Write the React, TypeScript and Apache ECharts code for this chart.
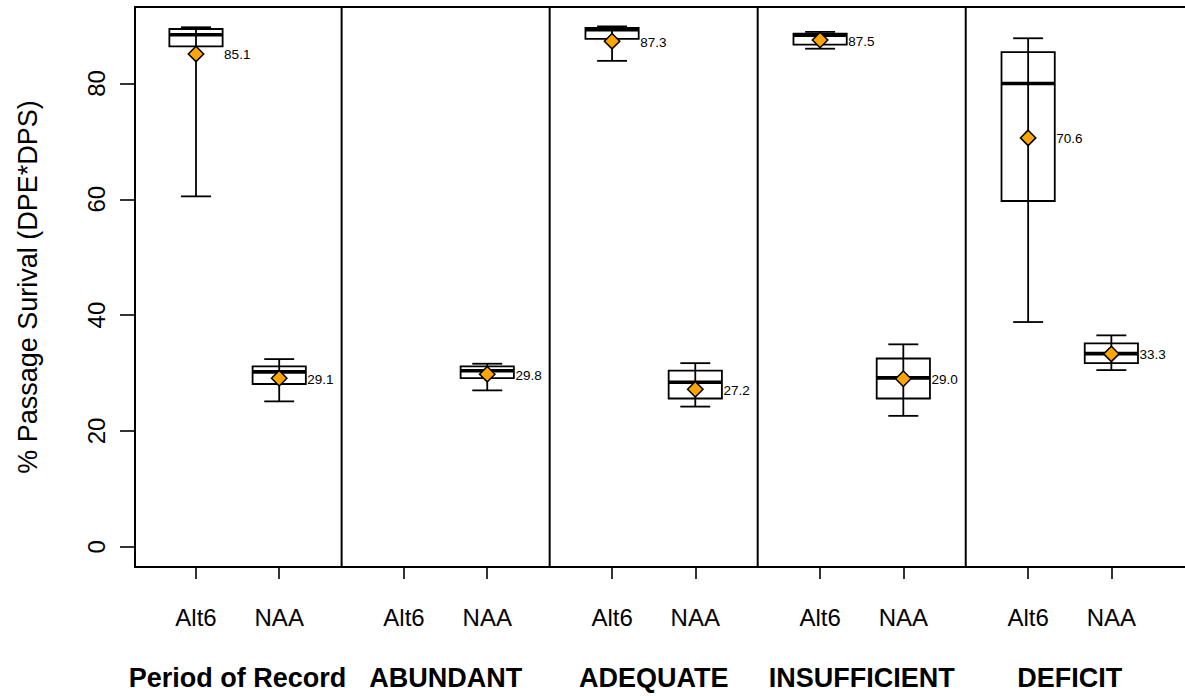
import React, { useEffect, useRef } from 'react';
import * as echarts from 'echarts';

// Box positions along the x axis (two scenarios per hydrologic period)
const positions = [1, 2, 3.5, 4.5, 6, 7, 8.5, 9.5, 11, 12];
const scenarios = ['Alt6', 'NAA', 'Alt6', 'NAA', 'Alt6', 'NAA', 'Alt6', 'NAA', 'Alt6', 'NAA'];
const periods = ['Period of Record', 'ABUNDANT', 'ADEQUATE', 'INSUFFICIENT', 'DEFICIT'];
const periodCenters = [1.5, 4, 6.5, 9, 11.5];
const periodBreaks = [2.75, 5.25, 7.75, 10.25];

// Box statistics (% passage survival); null = no data for that scenario/period
const whiskerLow = [60.5, 25.1, null, 27.0, 83.9, 24.2, 86.0, 22.6, 38.8, 30.5];
const quartile1 = [86.4, 28.1, null, 29.1, 87.7, 25.6, 86.7, 25.6, 59.7, 31.7];
const medians = [88.4, 30.2, null, 30.4, 89.3, 28.4, 88.35, 29.15, 80.0, 33.35];
const quartile3 = [89.4, 31.15, null, 31.15, 89.6, 30.4, 88.6, 32.5, 85.4, 35.1];
const whiskerHigh = [89.7, 32.4, null, 31.6, 89.85, 31.7, 88.9, 34.95, 87.8, 36.5];
const means = [85.1, 29.1, null, 29.8, 87.3, 27.2, 87.5, 29.0, 70.6, 33.3];

const yTicks = [0, 20, 40, 60, 80];

const X_MIN = 0.267;
const X_MAX = 12.885;
const Y_MIN = -3.5;
const Y_MAX = 93.2;
const BOX_HALF = 0.32;
const CAP_HALF = 0.18;
const FONT = '"Liberation Sans", Arial, Helvetica, sans-serif';
const LW = 1.8;

export default function App() {
  const ref = useRef<HTMLDivElement>(null);

  useEffect(() => {
    if (!ref.current) return;
    const chart = echarts.init(ref.current, null, { renderer: 'svg' });

    const boxData = positions
      .map((p, i) =>
        whiskerLow[i] == null
          ? null
          : [p, whiskerLow[i], quartile1[i], medians[i], quartile3[i], whiskerHigh[i], means[i]]
      )
      .filter((d) => d != null);

    const labelFor = (v: number, list: number[], names: string[]) => {
      const idx = list.findIndex((p) => Math.abs(p - v) < 1e-6);
      return idx >= 0 ? names[idx] : '';
    };

    const option: any = {
      animation: false,
      backgroundColor: '#fff',
      grid: { left: 135, right: 0, top: 7, bottom: 129, show: false },
      xAxis: [
        {
          type: 'value',
          position: 'bottom',
          min: X_MIN,
          max: X_MAX,
          splitLine: { show: false },
          axisLine: { show: true, onZero: false, lineStyle: { color: '#000', width: 2 } },
          axisTick: { show: true, customValues: positions, length: 12, lineStyle: { color: '#000', width: 1.6 } },
          axisLabel: {
            show: true,
            customValues: positions,
            formatter: (v: number) => labelFor(v, positions, scenarios),
            color: '#000',
            fontFamily: FONT,
            fontSize: 24,
            margin: 38,
          },
        },
        {
          type: 'value',
          position: 'bottom',
          min: X_MIN,
          max: X_MAX,
          splitLine: { show: false },
          axisLine: { show: false },
          axisTick: { show: false },
          axisLabel: {
            show: true,
            customValues: periodCenters,
            formatter: (v: number) => labelFor(v, periodCenters, periods),
            color: '#000',
            fontFamily: FONT,
            fontWeight: 'bold',
            fontSize: 27,
            margin: 97,
          },
        },
        {
          type: 'value',
          position: 'top',
          min: X_MIN,
          max: X_MAX,
          splitLine: { show: false },
          axisLine: { show: true, onZero: false, lineStyle: { color: '#000', width: 2 } },
          axisTick: { show: false },
          axisLabel: { show: false },
        },
      ],
      yAxis: {
        type: 'value',
        min: Y_MIN,
        max: Y_MAX,
        splitLine: { show: false },
        axisLine: { show: true, onZero: false, lineStyle: { color: '#000', width: 2 } },
        axisTick: { show: true, customValues: yTicks, length: 15, lineStyle: { color: '#000', width: 1.6 } },
        axisLabel: {
          show: true,
          customValues: yTicks,
          rotate: 90,
          color: '#000',
          fontFamily: FONT,
          fontSize: 24,
          margin: 27,
        },
        name: '% Passage Surival (DPE*DPS)',
        nameLocation: 'middle',
        nameRotate: 90,
        nameGap: 94,
        nameTextStyle: { color: '#000', fontFamily: FONT, fontSize: 27 },
      },
      series: [
        {
          type: 'custom',
          name: 'periodBreaks',
          silent: true,
          clip: false,
          xAxisIndex: 0,
          data: periodBreaks.map((b) => [b, Y_MIN, Y_MAX]),
          encode: { x: 0, y: [1, 2] },
          renderItem: (_params: any, api: any) => {
            const top = api.coord([api.value(0), Y_MAX]);
            const bot = api.coord([api.value(0), Y_MIN]);
            return {
              type: 'line',
              shape: { x1: top[0], y1: top[1], x2: bot[0], y2: bot[1] },
              style: { stroke: '#000', lineWidth: 2 },
            };
          },
        },
        {
          type: 'custom',
          name: 'survival',
          silent: true,
          clip: false,
          xAxisIndex: 0,
          data: boxData,
          encode: { x: 0, y: [1, 2, 3, 4, 5, 6] },
          renderItem: (_params: any, api: any) => {
            const x = api.value(0);
            const lo = api.coord([x, api.value(1)]);
            const q1 = api.coord([x, api.value(2)]);
            const md = api.coord([x, api.value(3)]);
            const q3 = api.coord([x, api.value(4)]);
            const hi = api.coord([x, api.value(5)]);
            const mnVal = api.value(6);
            const mn = api.coord([x, mnVal]);
            const cx = lo[0];
            const hw = api.size([BOX_HALF, 0])[0];
            const cw = api.size([CAP_HALF, 0])[0];
            const d = 7.7;
            const stroke = { stroke: '#000', lineWidth: LW };
            return {
              type: 'group',
              children: [
                {
                  type: 'rect',
                  shape: { x: cx - hw, y: q3[1], width: 2 * hw, height: q1[1] - q3[1] },
                  style: { fill: '#fff', stroke: '#000', lineWidth: LW },
                },
                { type: 'line', shape: { x1: cx, y1: hi[1], x2: cx, y2: lo[1] }, style: stroke },
                { type: 'line', shape: { x1: cx - cw, y1: hi[1], x2: cx + cw, y2: hi[1] }, style: stroke },
                { type: 'line', shape: { x1: cx - cw, y1: lo[1], x2: cx + cw, y2: lo[1] }, style: stroke },
                {
                  type: 'line',
                  shape: { x1: cx - hw, y1: md[1], x2: cx + hw, y2: md[1] },
                  style: { stroke: '#000', lineWidth: 3.6 },
                },
                {
                  type: 'polygon',
                  shape: {
                    points: [
                      [cx, mn[1] - d],
                      [cx + d, mn[1]],
                      [cx, mn[1] + d],
                      [cx - d, mn[1]],
                    ],
                  },
                  style: { fill: '#FFA500', stroke: '#000', lineWidth: 1.5 },
                },
                {
                  type: 'text',
                  style: {
                    x: cx + hw + 1.5,
                    y: mn[1] + 1,
                    text: mnVal.toFixed(1),
                    fill: '#000',
                    fontSize: 13.5,
                    fontFamily: FONT,
                    align: 'left',
                    verticalAlign: 'middle',
                  },
                },
              ],
            };
          },
        },
      ],
    };

    chart.setOption(option);
    return () => chart.dispose();
  }, []);

  return (
    <div
      ref={ref}
      style={{ position: 'absolute', left: 0, top: 0, width: 1185, height: 696, background: '#fff' }}
    />
  );
}
